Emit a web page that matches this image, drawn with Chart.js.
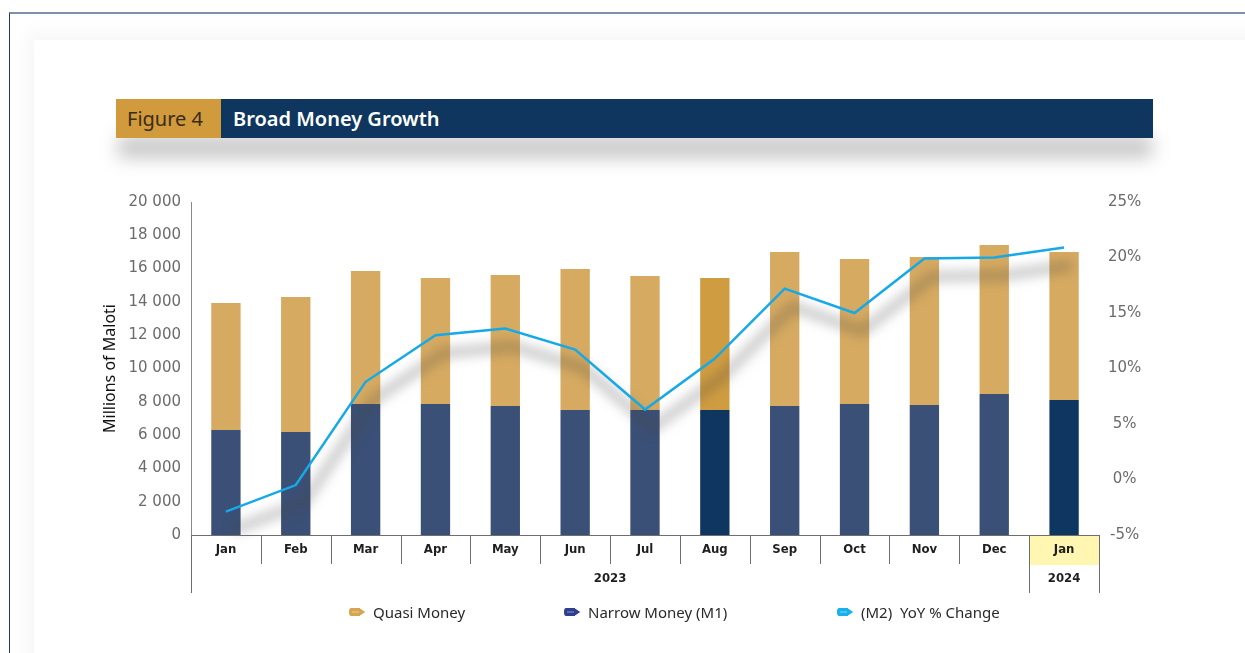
<!DOCTYPE html>
<html>
<head>
<meta charset="utf-8">
<script src="https://cdn.jsdelivr.net/npm/chart.js@4.4.1/dist/chart.umd.min.js"></script>
<style>
  html, body { margin: 0; padding: 0; background: #fff; }
  body { width: 1245px; height: 653px; position: relative; overflow: hidden; font-family: 'Noto Sans', sans-serif; }
  .marco { position: absolute; left: 9px; top: 12px; width: 1300px; height: 700px; border-top: 2px solid #7f90a8; border-left: 1px solid #1f3b68; }
  .marco__interior { position: absolute; left: 24px; top: 26px; width: 1300px; height: 700px; background: #fff; box-shadow: 0 0 16px 8px rgba(0,0,0,0.035); }
  .titulo__sombra { position: absolute; left: 118px; top: 136px; width: 1034px; height: 22px; background: rgba(0,0,0,0.22); filter: blur(9px); }
  .titulo { position: absolute; left: 116px; top: 99px; width: 1037px; height: 39px; display: flex; }
  .titulo__fig { width: 105px; background: #d09a3d; color: #3a2c14; font-size: 20px; line-height: 39px; padding-left: 11px; box-sizing: border-box; }
  .titulo__txt { flex: 1; background: #0e365f; color: #fff; font-size: 20px; font-weight: 600; line-height: 39px; padding-left: 12px; }
  .grafico { position: absolute; left: 0; top: 0; width: 1245px; height: 653px; }
  .leyenda { position: absolute; top: 602px; left: 0; width: 1245px; height: 24px; font-size: 15px; color: #2a2a2a; }
  .leyenda__item { position: absolute; display: flex; align-items: center; gap: 6px; }
</style>
</head>
<body>
<div class="marco"><div class="marco__interior"></div></div>
<div class="titulo__sombra"></div>
<div class="titulo">
  <div class="titulo__fig">Figure 4</div>
  <div class="titulo__txt">Broad Money Growth</div>
</div>
<div class="grafico"><canvas id="chart-m2"></canvas></div>
<div class="leyenda" id="leyenda"></div>
<script>
'use strict';

const MESES = ['Jan', 'Feb', 'Mar', 'Apr', 'May', 'Jun', 'Jul', 'Aug', 'Sep', 'Oct', 'Nov', 'Dec', 'Jan'];
const ANIOS = ['2023', '2024'];
const ANIOS_SPAN = [12, 1];

// millones de maloti
const narrowMoney = [6310, 6190, 7870, 7870, 7750, 7510, 7510, 7510, 7750, 7870, 7810, 8470, 8110];
const quasiMoney = [7620, 8110, 7990, 7570, 7870, 8470, 8050, 7930, 9250, 8710, 8890, 8950, 8890];
// variación interanual M2 (%)
const m2Yoy = [-2.9, -0.5, 8.8, 13.0, 13.6, 11.7, 6.3, 10.9, 17.2, 15.0, 19.9, 20.0, 20.9];

const Y_TICKS = [0, 2000, 4000, 6000, 8000, 10000, 12000, 14000, 16000, 18000, 20000];
const Y1_TICKS = [-5, 0, 5, 10, 15, 20, 25];

const ORO = '#d6aa61';
const ORO_OSC = '#cf9c41';
const AZUL = '#3b5076';
const AZUL_OSC = '#0e3660';
const CIAN = '#16a9e8';

const FUENTE_EJE = "'DejaVu Sans', Verdana, sans-serif";
const FUENTE_COND = "'Liberation Sans Narrow', 'DejaVu Sans Condensed', 'Arial Narrow', sans-serif";

const fmtMiles = (v) => String(v).replace(/\B(?=(\d{3})+(?!\d))/g, ' ');

const sombraLinea = {
    id: 'sombraLinea',
    beforeDatasetDraw(chart, args) {
        if (args.index !== 2) return;
        const pts = chart.getDatasetMeta(2).data;
        const ctx = chart.ctx;
        ctx.save();
        ctx.filter = 'blur(6px)';
        ctx.strokeStyle = 'rgba(70,70,70,0.3)';
        ctx.lineWidth = 10;
        ctx.lineJoin = 'round';
        ctx.translate(8, 18);
        ctx.beginPath();
        pts.forEach((p, i) => (i ? ctx.lineTo(p.x, p.y) : ctx.moveTo(p.x, p.y)));
        ctx.stroke();
        ctx.restore();
    },
};

const ejeAgrupado = {
    id: 'ejeAgrupado',
    afterDraw(chart) {
        const { ctx, chartArea, scales: { x } } = chart;
        const paso = x.getPixelForValue(1) - x.getPixelForValue(0);
        const base = chartArea.bottom;
        const borde = (i) => x.getPixelForValue(i) - paso / 2;
        ctx.save();

        // celda resaltada del último mes
        ctx.fillStyle = '#fff6b2';
        ctx.fillRect(borde(MESES.length - 1), base, paso, 30);

        ctx.strokeStyle = '#6e6e6e';
        ctx.lineWidth = 1;
        ctx.beginPath();
        for (let i = 1; i < MESES.length; i++) {
            const bx = Math.round(borde(i)) + 0.5;
            ctx.moveTo(bx, base);
            ctx.lineTo(bx, base + 29);
        }
        let acum = 0;
        const cortes = [0];
        ANIOS_SPAN.forEach((n) => { acum += n; cortes.push(acum); });
        cortes.forEach((c) => {
            const bx = Math.round(borde(c)) + 0.5;
            ctx.moveTo(bx, base);
            ctx.lineTo(bx, base + 58);
        });
        ctx.moveTo(borde(0), base + 0.5);
        ctx.lineTo(borde(MESES.length), base + 0.5);
        ctx.stroke();

        ctx.fillStyle = '#1f1f1f';
        ctx.font = `bold 13px ${FUENTE_COND}`;
        ctx.textAlign = 'center';
        ctx.textBaseline = 'middle';
        MESES.forEach((m, i) => ctx.fillText(m, x.getPixelForValue(i), base + 15));

        ANIOS.forEach((a, k) => {
            const cx = (borde(cortes[k]) + borde(cortes[k + 1])) / 2;
            ctx.fillText(a, cx, base + 44);
        });
        ctx.restore();
    },
};

const colorBarra = (normal, oscuro, idxOscuros) => (c) => (idxOscuros.includes(c.dataIndex) ? oscuro : normal);

new Chart(document.getElementById('chart-m2'), {
    data: {
        labels: MESES,
        datasets: [
            {
                type: 'bar',
                label: 'Narrow Money (M1)',
                data: narrowMoney,
                backgroundColor: colorBarra(AZUL, AZUL_OSC, [7, 12]),
                stack: 'm2',
                yAxisID: 'y',
                barPercentage: 0.42,
                categoryPercentage: 1,
                order: 1,
            },
            {
                type: 'bar',
                label: 'Quasi Money',
                data: quasiMoney,
                backgroundColor: colorBarra(ORO, ORO_OSC, [7]),
                stack: 'm2',
                yAxisID: 'y',
                barPercentage: 0.42,
                categoryPercentage: 1,
                order: 1,
            },
            {
                type: 'line',
                label: '(M2)  YoY % Change',
                data: m2Yoy,
                borderColor: CIAN,
                borderWidth: 2.5,
                pointRadius: 0,
                tension: 0,
                yAxisID: 'y1',
                order: 0,
            },
        ],
    },
    options: {
        responsive: true,
        maintainAspectRatio: false,
        animation: false,
        layout: { padding: { left: 100, right: 86, top: 202, bottom: 58 } },
        plugins: { legend: { display: false }, tooltip: { enabled: false } },
        scales: {
            x: {
                stacked: true,
                offset: true,
                grid: { display: false },
                border: { display: false },
                ticks: { display: false },
                afterFit: (s) => { s.height = 60; },
            },
            y: {
                stacked: true,
                position: 'left',
                min: 0,
                max: 20000,
                afterBuildTicks: (s) => { s.ticks = Y_TICKS.map((v) => ({ value: v })); },
                afterFit: (s) => { s.width = 91; },
                grid: { display: false, drawTicks: false },
                border: { display: true, color: '#8a8a8a', width: 1 },
                ticks: {
                    color: '#6b6b6b',
                    font: { family: FUENTE_EJE, size: 15 },
                    padding: 10,
                    callback: (v) => fmtMiles(v),
                },
                title: {
                    display: true,
                    text: 'Millions of Maloti',
                    color: '#111',
                    font: { family: "'Noto Sans', sans-serif", size: 16 },
                    padding: { top: 1, bottom: 0 },
                },
            },
            y1: {
                position: 'right',
                min: -5,
                max: 25,
                afterBuildTicks: (s) => { s.ticks = Y1_TICKS.map((v) => ({ value: v })); },
                afterFit: (s) => { s.width = 60; },
                grid: { display: false, drawTicks: false },
                border: { display: false },
                ticks: {
                    color: '#6b6b6b',
                    font: { family: FUENTE_EJE, size: 15 },
                    padding: 9,
                    crossAlign: 'center',
                    callback: (v) => `${v}%`,
                },
            },
        },
    },
    plugins: [sombraLinea, ejeAgrupado],
});

// leyenda con iconos de lápiz
const LEYENDA = [
    { texto: 'Quasi Money', color: '#d7a552', x: 348 },
    { texto: 'Narrow Money (M1)', color: '#2f3f8f', x: 563 },
    { texto: '(M2)&nbsp; YoY % Change', color: '#1ab0ec', x: 836 },
];

const iconoLapiz = (color) => `
    <svg width="19" height="10" viewBox="0 0 19 10">
        <path d="M3 1 H12 L18 5 L12 9 H3 Q1 9 1 5 Q1 1 3 1 Z" fill="${color}"/>
        <path d="M12 1 L18 5 L12 9" fill="none" stroke="#fff" stroke-width="1"/>
        <line x1="4" y1="5" x2="11" y2="5" stroke="rgba(255,255,255,0.45)" stroke-width="1"/>
    </svg>`;

document.getElementById('leyenda').innerHTML = LEYENDA.map((l) => `
    <div class="leyenda__item" style="left:${l.x}px">${iconoLapiz(l.color)}<span>${l.texto}</span></div>
`).join('');
</script>
</body>
</html>
